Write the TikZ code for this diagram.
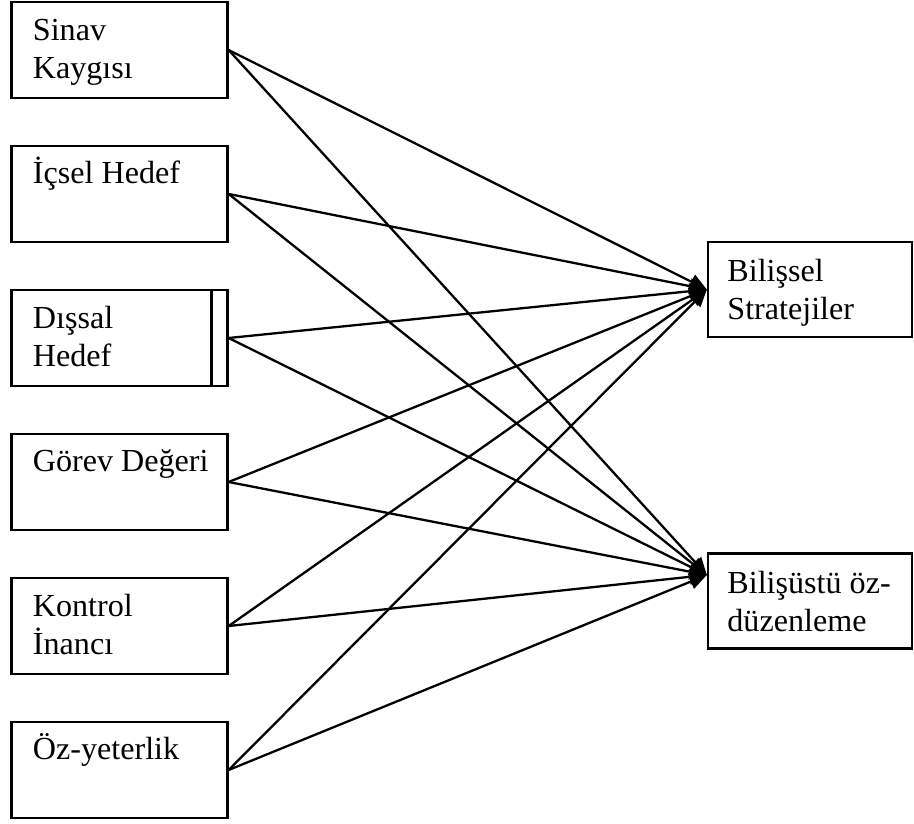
\documentclass[tikz,border=0pt]{standalone}
\usepackage{fontspec}
\setmainfont{Liberation Serif}
\usetikzlibrary{arrows.meta, positioning}
\newcommand{\birim}{0.3487pt}
\tikzset{
  kutu/.style={rectangle, draw, line width=0.8pt, minimum width=216*\birim,
               minimum height=96*\birim, inner sep=0pt},
  sagkutu/.style={kutu, minimum width=204*\birim, minimum height=95*\birim},
  yazi/.style={anchor=base west, align=left, inner sep=0pt,
               font=\fontsize{11.2}{13.3}\selectfont},
  ok/.style={-{Triangle[length=6pt,width=5.4pt]}, line width=0.8pt},
}

\begin{document}
\begin{tikzpicture}[x=\birim, y=-\birim]
\useasboundingbox (0,0) rectangle (914,824);

% Sol kutular
\node[kutu] (sk) at (119.5,50) {};
\node[kutu] (ih) at (119.5,194) {};
\node[kutu] (dh) at (119.5,338) {};
\node[kutu] (gd) at (119.5,482) {};
\node[kutu] (ki) at (119.5,626) {};
\node[kutu] (oy) at (119.5,770) {};
\draw[line width=0.8pt] ([xshift=-17*\birim]dh.north east) -- ([xshift=-17*\birim]dh.south east);

% Sag kutular
\node[sagkutu] (bs) at (810,289.5) {};
\node[sagkutu] (bo) at (810,601) {};
\coordinate (bo-hedef) at ([shift={(0,-26)}]bo.west);

% Yazilar (iki satirlilarda base = son satir)
\node[yazi] (sk-y) at ([shift={(22,78)}]sk.north west) {Sinav\\Kaygısı};
\node[yazi] (ih-y) at ([shift={(22,39)}]ih.north west) {İçsel Hedef};
\node[yazi] (dh-y) at ([shift={(22,78)}]dh.north west) {Dışsal\\Hedef};
\node[yazi] (gd-y) at ([shift={(22,39)}]gd.north west) {Görev Değeri};
\node[yazi] (ki-y) at ([shift={(22,78)}]ki.north west) {Kontrol\\İnancı};
\node[yazi] (oy-y) at ([shift={(22,39)}]oy.north west) {Öz-yeterlik};
\node[yazi] (bs-y) at ([shift={(20,79)}]bs.north west) {Bilişsel\\Stratejiler};
\node[yazi] (bo-y) at ([shift={(20,79)}]bo.north west) {Bilişüstü öz-\\düzenleme};

% Oklar
\foreach \k in {sk,ih,dh,gd,ki,oy} {
  \draw[ok] (\k.east) -- (bs.west);
  \draw[ok] (\k.east) -- (bo-hedef);
}

\end{tikzpicture}
\end{document}
